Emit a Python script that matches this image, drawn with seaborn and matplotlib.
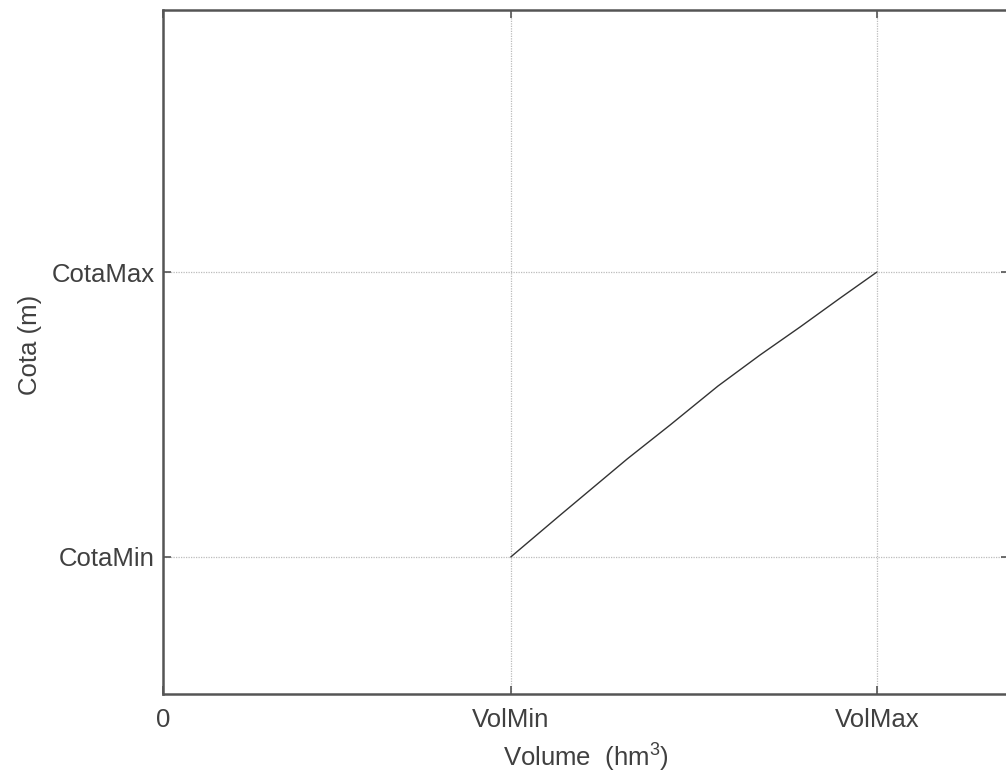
import matplotlib
matplotlib.use("Agg")
import matplotlib.pyplot as plt
import seaborn as sns
import pandas as pd

# Reservoir elevation-volume curve
volume = [95.0, 108.5, 126.8, 138.5, 151.6, 163.1, 174.0, 185.0, 195.0]
cota = [100.0, 114.7, 134.4, 146.3, 160.0, 170.9, 180.7, 190.9, 200.0]

x_ticks = [0, 95, 195]
x_labels = ["0", "VolMin", "VolMax"]
y_ticks = [100, 200]
y_labels = ["CotaMin", "CotaMax"]

sns.set_theme(style="white")
plt.rcParams["font.family"] = ["Liberation Sans", "DejaVu Sans"]
plt.rcParams["mathtext.fontset"] = "custom"
plt.rcParams["mathtext.rm"] = "Liberation Sans"

text_color = "#404040"
spine_color = "#555555"

fig = plt.figure(figsize=(10.06, 7.76), dpi=100)
ax = fig.add_axes([163 / 1006, 82 / 776, 846 / 1006, 684 / 776])

df = pd.DataFrame({"Volume": volume, "Cota": cota})
sns.lineplot(data=df, x="Volume", y="Cota", ax=ax, color="#333333", linewidth=1.0, sort=False)

ax.set_xlim(0, 231.1)
ax.set_ylim(51.9, 292.0)

ax.set_xticks(x_ticks)
ax.set_xticklabels(x_labels)
ax.set_yticks(y_ticks)
ax.set_yticklabels(y_labels)

ax.grid(True, linestyle=(0, (1, 1)), color="#bcbcbc", linewidth=0.9)
ax.set_axisbelow(True)

for s in ax.spines.values():
    s.set_visible(True)
    s.set_color(spine_color)
    s.set_linewidth(1.8)

ax.tick_params(axis="both", direction="in", length=6, width=1.2, color=spine_color,
               labelsize=18.5, labelcolor=text_color,
               top=True, right=True, bottom=True, left=True)
ax.tick_params(axis="x", pad=10)
ax.tick_params(axis="y", pad=6)

ax.set_xlabel("Volume  (hm$^{3}$)", fontsize=18.5, color=text_color, labelpad=6)
ax.set_ylabel("Cota (m)", fontsize=18.5, color=text_color, labelpad=8)
ax.yaxis.set_label_coords(-0.143, 0.51)

fig.savefig("out.png", dpi=100)
